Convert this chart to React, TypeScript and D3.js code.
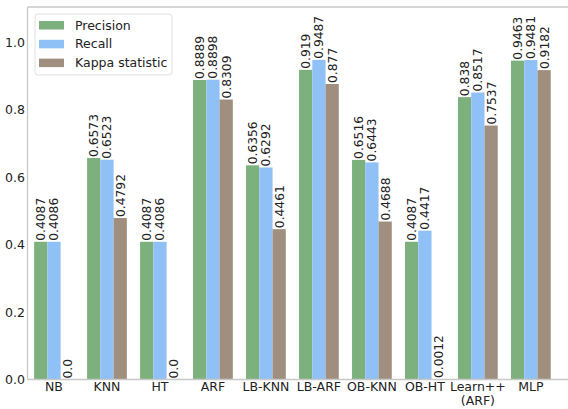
import React from "react";
import * as d3 from "d3";

const categories = ["NB", "KNN", "HT", "ARF", "LB-KNN", "LB-ARF", "OB-KNN", "OB-HT", "Learn++\n(ARF)", "MLP"];
const precision = [0.4087, 0.6573, 0.4087, 0.8889, 0.6356, 0.919, 0.6516, 0.4087, 0.838, 0.9463];
const recall = [0.4086, 0.6523, 0.4086, 0.8898, 0.6292, 0.9487, 0.6443, 0.4417, 0.8517, 0.9481];
const kappa = [0.0, 0.4792, 0.0, 0.8309, 0.4461, 0.877, 0.4688, 0.0012, 0.7537, 0.9182];
const seriesNames = ["Precision", "Recall", "Kappa statistic"];
const yTicks = [0.0, 0.2, 0.4, 0.6, 0.8, 1.0];

const W = 568;
const H = 409;
const colors = ["#7cb07c", "#8fc1f6", "#a08f7f"];
const FONT = "DejaVu Sans, sans-serif";

const fmt = (v: number) => (Number.isInteger(v) ? v.toFixed(1) : String(v));

export default function App() {
  const series = [precision, recall, kappa];
  const left = 27.5;
  const right = 600;
  const top = 7;
  const bottom = 379.5;

  // one unit per category; bars are 0.25 wide, offset around the tick
  const x = d3.scaleLinear().domain([-0.5, 9.7 + (right - 568) / 52.9]).range([left, right]);
  const unit = x(1) - x(0);
  const y = d3.scaleLinear().domain([0, 1.1055]).range([bottom, top]);
  const bw = unit * 0.25;

  return (
    <svg width={W} height={H} style={{ position: "absolute", left: 0, top: 0, background: "#fff" }} fontFamily={FONT}>
      {/* bars */}
      {series.map((vals, s) =>
        vals.map((v, i) => {
          const cx = x(i) + (s - 1) * bw;
          return (
            <rect
              key={`b${s}-${i}`}
              x={cx - bw / 2}
              y={y(v)}
              width={bw}
              height={bottom - y(v)}
              fill={colors[s]}
            />
          );
        })
      )}
      {/* value labels */}
      {series.map((vals, s) =>
        vals.map((v, i) => {
          const cx = x(i) + (s - 1) * bw;
          return (
            <text
              key={`t${s}-${i}`}
              transform={`translate(${cx},${y(v) - 1}) rotate(-90)`}
              fontSize={12.3}
              dy="0.36em"
              fill="#222"
            >
              {fmt(v)}
            </text>
          );
        })
      )}
      {/* spines */}
      <line x1={left} x2={left} y1={top} y2={bottom} stroke="#c8c8c8" strokeWidth={1.3} />
      <line x1={left} x2={W} y1={top} y2={top} stroke="#c8c8c8" strokeWidth={1.3} />
      <line x1={left} x2={W} y1={bottom} y2={bottom} stroke="#c8c8c8" strokeWidth={1.3} />
      {/* y tick labels */}
      {yTicks.map((t) => (
        <text key={`y${t}`} x={25} y={y(t)} dy="0.36em" textAnchor="end" fontSize={12.5} fill="#222">
          {t.toFixed(1)}
        </text>
      ))}
      {/* x tick labels */}
      {categories.map((c, i) =>
        c.split("\n").map((line, k) => (
          <text
            key={`x${i}-${k}`}
            x={x(i)}
            y={391 + k * 14.2}
            textAnchor="middle"
            fontSize={12.5}
            fill="#222"
          >
            {line}
          </text>
        ))
      )}
      {/* legend */}
      <rect x={35} y={14} width={137} height={61} rx={3} fill="#fff" fillOpacity={0.8} stroke="#e0e0e0" />
      {seriesNames.map((n, s) => (
        <g key={`l${s}`} transform={`translate(0,${25 + s * 18.8})`}>
          <rect x={39} y={-4} width={25} height={8.5} fill={colors[s]} />
          <text x={75} y={0} dy="0.36em" fontSize={12.5} fill="#222">
            {n}
          </text>
        </g>
      ))}
    </svg>
  );
}
